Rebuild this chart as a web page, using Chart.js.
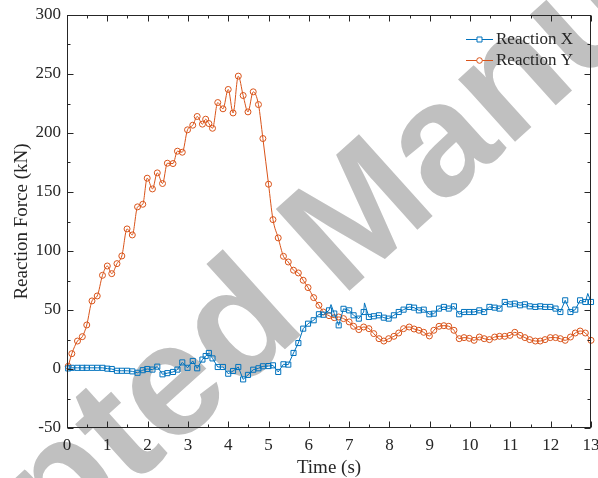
<!DOCTYPE html>
<html>
<head>
<meta charset="utf-8">
<script src="https://cdn.jsdelivr.net/npm/chart.js@4.4.1/dist/chart.umd.min.js"></script>
<style>
  html, body { margin: 0; padding: 0; background: #fff; }
  #wrap { width: 598px; height: 478px; }
</style>
</head>
<body>
<div id="wrap"><canvas id="forceChart" width="598" height="478"></canvas></div>
<script>
// marker times (s), shared by both series
const timeS = [
  0.03, 0.12, 0.26, 0.38, 0.49, 0.62, 0.75, 0.88, 1.0, 1.11,
  1.24, 1.36, 1.49, 1.62, 1.75, 1.88, 1.99, 2.12, 2.24, 2.37,
  2.49, 2.63, 2.74, 2.86, 2.99, 3.12, 3.23, 3.36, 3.44, 3.52,
  3.61, 3.74, 3.87, 4.0, 4.12, 4.25, 4.37, 4.49, 4.62, 4.75,
  4.86, 5.0, 5.11, 5.24, 5.37, 5.49, 5.62, 5.74, 5.86, 5.98,
  6.12, 6.25, 6.36, 6.5, 6.63, 6.74, 6.86, 7.0, 7.11, 7.24,
  7.36, 7.49, 7.61, 7.74, 7.86, 7.98, 8.11, 8.23, 8.35, 8.49,
  8.61, 8.73, 8.85, 8.99, 9.1, 9.23, 9.35, 9.47, 9.6, 9.73,
  9.85, 9.98, 10.1, 10.23, 10.35, 10.48, 10.61, 10.73, 10.86, 10.99,
  11.11, 11.24, 11.36, 11.48, 11.62, 11.74, 11.86, 11.99, 12.12, 12.24,
  12.36, 12.49, 12.61, 12.73, 12.86, 13.0
];

// Reaction X (kN)
const reactionX = [
  0.5, 1, 1, 1, 1, 1, 1, 1, 0.3, 0,
  -1.5, -1.5, -1.5, -2, -3.2, -1, 0, -0.5, 2, -4.5,
  -3.5, -2.5, -0.5, 5.6, 1, 6.8, 0.6, 8, 11, 13.6,
  9, 1.7, 1.7, -4, -1.7, 1.7, -8.8, -5, -0.6, 0.6,
  2.3, 2.5, 3.1, -2.5, 4, 3.7, 13.6, 22, 34.2, 38.4,
  41.3, 46.4, 46, 49.7, 47, 37, 51, 49.7, 45.5, 42.7,
  48.3, 44.1, 44.7, 45.5, 43.5, 42.7, 45.5, 48.3, 50.3, 52.6,
  52, 49.7, 50.3, 46.4, 46.9, 51.2, 52.6, 51.2, 53.1, 46.4,
  48.3, 48.3, 48.3, 49.7, 48.3, 52.6, 52, 51.2, 56.8, 54.8,
  55.4, 54, 54.8, 53.1, 52.6, 53.1, 52.6, 52.6, 51.2, 48.3,
  58.2, 48.3, 50.3, 58.2, 56.8, 56.8
];

// Reaction Y (kN)
const reactionY = [
  2.3, 13, 23.7, 27.4, 37.3, 57.7, 61.9, 79.4, 87.3, 80.8,
  89.3, 95.8, 118.7, 113.6, 137.4, 139.6, 161.7, 152.6, 166.2, 157.2,
  174.4, 174.1, 184.6, 183.7, 202.7, 206.6, 214, 207.5, 211.7, 208,
  204, 225.8, 220.5, 236.9, 217, 248.2, 231.8, 217.9, 234.9, 224.1,
  195.3, 156.6, 126.6, 111.1, 95.5, 90.7, 83.7, 81.4, 75.2, 69,
  60.5, 54, 48.3, 45.2, 43.5, 44.1, 42.7, 39.9, 36.2, 33.4,
  35.6, 34.2, 30, 25.7, 23.7, 25.7, 27.7, 30.5, 34.2, 35.6,
  33.9, 32.8, 31.1, 28, 32.8, 36.2, 36.7, 36.2, 32.8, 25.7,
  26.6, 26, 24.3, 27.1, 25.7, 24.9, 27.1, 27.7, 27.7, 28.5,
  31.1, 28.5, 26.6, 24.9, 23.7, 23.7, 24.9, 26.6, 26.6, 25.7,
  24.3, 27.1, 30.5, 32.2, 30.5, 24.3
];

// spikes in the X trace that sit between markers
const spikeTimeX = [6.55, 7.38, 12.92];
const spikeForceX = [54.6, 56, 64];

const BLUE = '#0072BD';
const ORANGE = '#D95319';
const INK = '#262626';
const SERIF = "'Liberation Serif', 'Times New Roman', serif";

let xPoints = timeS.map((t, i) => ({ x: t, y: reactionX[i], marker: true }));
spikeTimeX.forEach((t, i) => xPoints.push({ x: t, y: spikeForceX[i], marker: false }));
xPoints.sort((a, b) => a.x - b.x);
const yPoints = timeS.map((t, i) => ({ x: t, y: reactionY[i] }));

// grey "Accepted Manuscript" stamp behind the plot, anchored on the "e" of "ted"
const watermark = {
  id: 'watermark',
  beforeDraw(chart) {
    const ctx = chart.ctx;
    const size = 160;
    ctx.save();
    ctx.fillStyle = '#c0c0c0';
    ctx.font = "bold " + size + "px 'Liberation Sans', Arial, sans-serif";
    ctx.translate(175, 392);
    ctx.rotate(-42 * Math.PI / 180);
    const start = ctx.measureText('Accept').width + ctx.measureText('e').width / 2;
    ctx.fillText('Accepted Manuscript', -start, size * 0.26);
    ctx.restore();
  }
};

// box round the plot with inward ticks on all four sides
const axisBox = {
  id: 'axisBox',
  afterDatasetsDraw(chart) {
    const { ctx, chartArea: a, scales: { x, y } } = chart;
    const L = Math.round(a.left) + 0.5, R = Math.round(a.right) - 0.5;
    const T = Math.round(a.top) + 0.5, B = Math.round(a.bottom) - 0.5;
    ctx.save();
    ctx.strokeStyle = INK;
    ctx.lineWidth = 1;
    ctx.beginPath();
    for (let v = 0; v <= 13; v += 0.5) {
      const px = Math.round(x.getPixelForValue(v)) + 0.5;
      const len = v % 1 === 0 ? 6 : 3;
      ctx.moveTo(px, B); ctx.lineTo(px, B - len);
      ctx.moveTo(px, T); ctx.lineTo(px, T + len);
    }
    for (let v = -50; v <= 300; v += 25) {
      const py = Math.round(y.getPixelForValue(v)) + 0.5;
      const len = v % 50 === 0 ? 6 : 3;
      ctx.moveTo(L, py); ctx.lineTo(L + len, py);
      ctx.moveTo(R, py); ctx.lineTo(R - len, py);
    }
    ctx.stroke();
    ctx.strokeRect(L, T, R - L, B - T);
    ctx.restore();
  }
};

// axis titles and the in-plot legend
const labels = {
  id: 'labels',
  afterDraw(chart) {
    const { ctx, chartArea: a } = chart;
    ctx.save();
    ctx.fillStyle = INK;
    ctx.font = '19px ' + SERIF;
    ctx.textAlign = 'center';
    ctx.textBaseline = 'middle';
    ctx.fillText('Time (s)', (a.left + a.right) / 2, 468);
    ctx.save();
    ctx.translate(22, (a.top + a.bottom) / 2);
    ctx.rotate(-Math.PI / 2);
    ctx.fillText('Reaction Force (kN)', 0, 0);
    ctx.restore();

    ctx.font = '17px ' + SERIF;
    ctx.textAlign = 'left';
    chart.data.datasets.forEach((ds, i) => {
      const cy = 39 + i * 21;
      ctx.strokeStyle = ds.borderColor;
      ctx.lineWidth = 1;
      ctx.beginPath();
      ctx.moveTo(466, cy + 0.5);
      ctx.lineTo(493, cy + 0.5);
      ctx.stroke();
      ctx.fillStyle = '#fff';
      ctx.beginPath();
      if (ds.pointStyle === 'rect') ctx.rect(477, cy - 2, 5, 5);
      else ctx.arc(479.5, cy + 0.5, 2.8, 0, Math.PI * 2);
      ctx.fill();
      ctx.stroke();
      ctx.fillStyle = INK;
      ctx.fillText(ds.label, 496, cy + 1);
    });
    ctx.restore();
  }
};

new Chart(document.getElementById('forceChart'), {
  type: 'line',
  data: {
    datasets: [
      {
        label: 'Reaction X',
        data: xPoints,
        borderColor: BLUE,
        backgroundColor: 'rgba(0,0,0,0)',
        borderWidth: 1,
        pointStyle: 'rect',
        pointRadius: ctx => (ctx.raw && ctx.raw.marker ? 3.6 : 0),
        pointBorderWidth: 1,
        pointBorderColor: BLUE,
        pointBackgroundColor: 'rgba(0,0,0,0)',
        tension: 0,
        clip: false
      },
      {
        label: 'Reaction Y',
        data: yPoints,
        borderColor: ORANGE,
        backgroundColor: 'rgba(0,0,0,0)',
        borderWidth: 1,
        pointStyle: 'circle',
        pointRadius: 3,
        pointBorderWidth: 1,
        pointBorderColor: ORANGE,
        pointBackgroundColor: 'rgba(0,0,0,0)',
        cubicInterpolationMode: 'monotone',
        clip: false
      }
    ]
  },
  options: {
    responsive: false,
    animation: false,
    events: [],
    layout: { autoPadding: false, padding: { top: 15, right: 7, left: 0, bottom: 0 } },
    plugins: { legend: { display: false }, tooltip: { enabled: false } },
    scales: {
      x: {
        type: 'linear',
        min: 0,
        max: 13,
        grid: { display: false, drawTicks: false },
        border: { display: false },
        ticks: {
          stepSize: 1,
          autoSkip: false,
          maxRotation: 0,
          padding: 7,
          color: INK,
          font: { family: SERIF, size: 17 }
        },
        afterFit(s) { s.height = 50; s.paddingLeft = 0; s.paddingRight = 0; }
      },
      y: {
        type: 'linear',
        min: -50,
        max: 300,
        grid: { display: false, drawTicks: false },
        border: { display: false },
        ticks: {
          stepSize: 50,
          padding: 6,
          color: INK,
          font: { family: SERIF, size: 17 }
        },
        afterFit(s) { s.width = 67; s.paddingTop = 0; s.paddingBottom = 0; }
      }
    }
  },
  plugins: [watermark, axisBox, labels]
});
</script>
</body>
</html>
